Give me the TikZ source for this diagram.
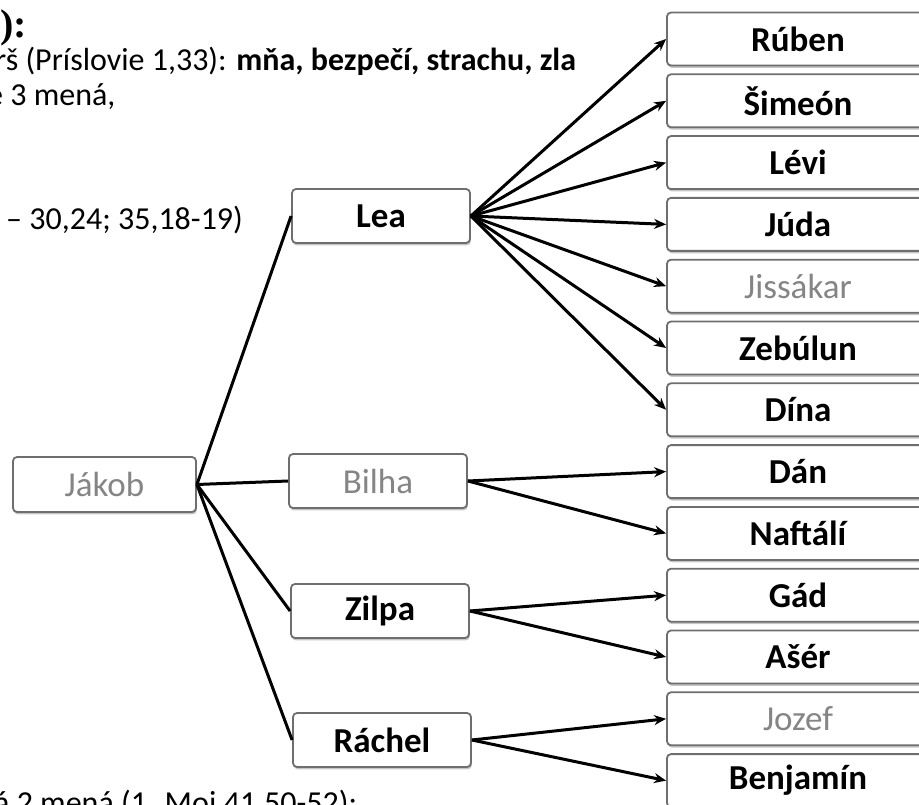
\documentclass[tikz,border=0pt]{standalone}
\usepackage{fontspec}
\setmainfont{Carlito}
\newfontfamily\headfont{Liberation Serif}
\usetikzlibrary{positioning}
\usetikzlibrary{arrows.meta}
\usetikzlibrary{shadows}
\definecolor{boxline}{HTML}{6E6E6E}
\definecolor{paletext}{HTML}{858585}
\newcommand{\boxfont}{\fontsize{35}{40}\selectfont}
\newcommand{\bodyfont}{\fontsize{32}{38}\selectfont}

\begin{document}
\begin{tikzpicture}[x=1pt, y=-1pt, ->, >={Stealth[length=12pt, width=10pt]}, every edge/.append style={line width=3pt}, node distance=7pt, font=\bodyfont]
\tikzstyle{box}=[draw=boxline, line width=1.8pt, rounded corners=4pt, fill=white, inner sep=0pt, drop shadow={shadow xshift=0.8pt, shadow yshift=-2.4pt, opacity=0.45}]
\tikzstyle{son}=[box, minimum width=262pt, minimum height=53pt, font=\boxfont\bfseries]
\tikzstyle{wife}=[box, minimum width=178pt, minimum height=54pt, font=\boxfont\bfseries]
\tikzstyle{pale}=[text=paletext, font=\boxfont\mdseries]
\tikzstyle{line}=[anchor=base west, inner sep=0pt]

\useasboundingbox (0,0) rectangle (919,805);
\clip (0,0) rectangle (919,805);

% text round the tree
\node[line, font=\headfont\fontsize{40}{46}\selectfont\bfseries] (head) at (0,38) {):};
\node[line] (verse) at (-5,71) {rš (Príslovie 1,33): \textbf{mňa, bezpečí, strachu, zla}};
\node[line] (names) at (-13,106) {e 3 mená,};
\node[line] (ref) at (6,230) {– 30,24; 35,18-19)};
\node[line] (foot) at (-6,813) {á 2 mená (1. Moj 41,50-52):};

% father and wives
\node[box, pale, minimum width=183pt, minimum height=55pt] (jakob) at (104.5,484.5) {Jákob};
\node[wife] (lea) at (381,216) {Lea};
\node[wife, pale] (bilha) at (378,481) {Bilha};
\node[wife] (zilpa) at (380,611) {Zilpa};
\node[wife] (rachel) at (382,740) {Ráchel};

% sons
\node[son] (ruben) at (798,39) {Rúben};
\node[son, below=of ruben] (simeon) {Šimeón};
\node[son, below=of simeon] (levi) {Lévi};
\node[son, below=of levi] (juda) {Júda};
\node[son, pale, below=of juda] (jissakar) {Jissákar};
\node[son, below=of jissakar] (zebulun) {Zebúlun};
\node[son, below=of zebulun] (dina) {Dína};
\node[son, below=of dina] (dan) {Dán};
\node[son, below=of dan] (naftali) {Naftálí};
\node[son, below=of naftali] (gad) {Gád};
\node[son, below=of gad] (aser) {Ašér};
\node[son, pale, below=of aser] (jozef) {Jozef};
\node[son, below=of jozef] (benjamin) {Benjamín};

\path (jakob.east) edge[-] (lea.west);
\path (jakob.east) edge[-] (bilha.west);
\path (jakob.east) edge[-] (zilpa.west);
\path (jakob.east) edge[-] (rachel.west);

\path (lea.east) edge (ruben.west);
\path (lea.east) edge (simeon.west);
\path (lea.east) edge (levi.west);
\path (lea.east) edge (juda.west);
\path (lea.east) edge (jissakar.west);
\path (lea.east) edge (zebulun.west);
\path (lea.east) edge (dina.west);

\path (bilha.east) edge (dan.west);
\path (bilha.east) edge (naftali.west);
\path (zilpa.east) edge (gad.west);
\path (zilpa.east) edge (aser.west);
\path (rachel.east) edge (jozef.west);
\path (rachel.east) edge (benjamin.west);
\end{tikzpicture}
\end{document}
